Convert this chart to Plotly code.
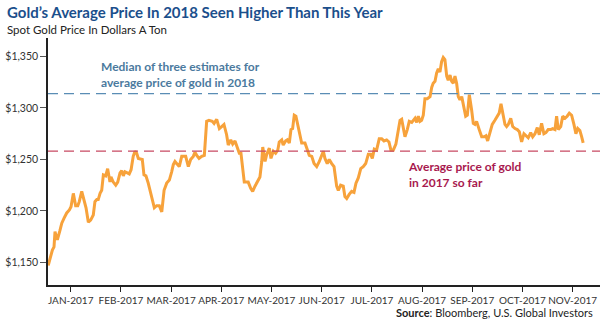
import plotly.graph_objects as go

# day-of-year (approx.) and spot gold price
days = [1.6, 2.7, 4.1, 5.1, 5.7, 6.7, 7.3, 8.7, 9.8, 11.2, 12.8, 14.4, 15.4, 16.8, 18.2, 19.5, 20.4, 21.9, 22.8, 24.5,
        25.9, 27.3, 28.9, 29.9, 31.0, 31.9, 33.0, 34.0, 35.0, 36.4, 37.6, 39.0, 39.6, 41.0, 42.5, 43.7, 45.1, 46.1, 47.1, 48.1,
        49.5, 50.7, 51.8, 53.1, 54.2, 55.2, 56.2, 57.8, 58.6, 59.6, 60.8, 62.2, 63.9, 65.9, 67.3, 68.9, 70.4, 71.8, 73.4, 75.0,
        76.4, 77.4, 78.4, 79.8, 81.0, 82.5, 83.9, 84.9, 86.5, 87.9, 89.5, 90.5, 91.6, 93.0, 94.6, 96.2, 97.6, 99.0, 101.0, 102.1,
        103.7, 105.3, 106.7, 108.1, 109.7, 110.7, 112.2, 113.4, 114.8, 115.8, 117.4, 118.4, 119.4, 120.4, 121.9, 122.8, 124.3, 125.5, 126.9, 128.3,
        129.9, 131.0, 131.6, 133.0, 134.0, 135.6, 136.6, 138.0, 139.4, 140.7, 141.6, 143.1, 144.0, 145.5, 146.5, 147.7, 148.7, 149.7, 150.7, 151.7,
        152.8, 154.2, 155.2, 157.2, 158.2, 159.8, 161.3, 162.7, 164.3, 165.9, 168.3, 169.3, 170.7, 171.9, 173.4, 174.8, 176.4, 177.4, 178.8, 180.4,
        181.4, 182.5, 184.0, 185.5, 186.9, 188.1, 189.5, 191.0, 192.5, 194.0, 195.6, 197.0, 198.0, 199.2, 200.6, 202.2, 203.7, 205.1, 206.7, 208.1,
        209.3, 210.7, 212.3, 213.4, 214.8, 215.8, 216.8, 217.8, 219.2, 220.4, 221.9, 222.8, 223.9, 224.9, 225.9, 226.9, 227.9, 228.9, 229.9, 231.3,
        233.0, 234.0, 234.9, 236.0, 237.0, 238.0, 239.0, 240.0, 241.0, 242.0, 243.1, 244.0, 245.1, 246.1, 247.1, 248.1, 249.1, 250.1, 251.1, 252.2,
        253.1, 254.6, 255.6, 256.8, 258.2, 259.2, 260.2, 261.2, 262.8, 264.3, 265.9, 266.9, 267.9, 269.3, 270.7, 272.3, 273.7, 274.9, 276.0, 277.0,
        278.4, 279.4, 280.4, 281.9, 283.1, 284.5, 285.9, 287.1, 288.5, 289.9, 291.1, 292.5, 294.0, 295.2, 296.6, 298.0, 299.2, 300.6, 302.0, 303.2,
        304.6, 306.1, 307.3, 308.7, 309.7, 310.7, 312.2, 313.4, 314.8, 316.1, 317.4, 318.8, 320.2, 321.4, 322.5, 323.8, 324.9, 325.8]
prices = [1147, 1154, 1162, 1165, 1180, 1173, 1173, 1181, 1188, 1193, 1198, 1201, 1204, 1217, 1205, 1205, 1209, 1219, 1214, 1203,
          1189, 1191, 1196, 1209, 1211, 1211, 1217, 1220, 1235, 1234, 1241, 1228, 1233, 1228, 1225, 1228, 1237, 1239, 1234, 1238,
          1237, 1236, 1240, 1253, 1258, 1256, 1251, 1250, 1250, 1235, 1234, 1227, 1215, 1203, 1205, 1205, 1199, 1220, 1227, 1230,
          1238, 1245, 1248, 1245, 1243, 1253, 1253, 1253, 1243, 1250, 1253, 1257, 1254, 1251, 1253, 1254, 1287, 1288, 1287, 1285,
          1289, 1280, 1282, 1284, 1274, 1264, 1269, 1265, 1268, 1264, 1256, 1256, 1238, 1228, 1228, 1228, 1222, 1219, 1224, 1228,
          1233, 1248, 1262, 1248, 1255, 1261, 1251, 1258, 1256, 1259, 1267, 1269, 1264, 1268, 1269, 1266, 1279, 1280, 1293, 1292,
          1283, 1274, 1266, 1266, 1262, 1254, 1253, 1246, 1243, 1248, 1258, 1251, 1246, 1250, 1246, 1243, 1224, 1220, 1225, 1224,
          1214, 1212, 1216, 1219, 1218, 1227, 1232, 1241, 1243, 1246, 1255, 1255, 1251, 1260, 1259, 1270, 1270, 1268, 1269, 1267,
          1259, 1259, 1265, 1277, 1288, 1289, 1282, 1272, 1279, 1287, 1286, 1288, 1290, 1286, 1292, 1287, 1288, 1293, 1309, 1309,
          1311, 1320, 1324, 1326, 1334, 1338, 1335, 1345, 1349, 1347, 1331, 1327, 1332, 1326, 1324, 1331, 1324, 1311, 1308, 1311,
          1303, 1292, 1293, 1313, 1298, 1285, 1284, 1287, 1279, 1272, 1272, 1273, 1268, 1277, 1284, 1288, 1292, 1295, 1304, 1295,
          1284, 1282, 1284, 1290, 1282, 1280, 1279, 1277, 1267, 1275, 1273, 1271, 1276, 1272, 1275, 1281, 1274, 1285, 1275, 1276,
          1279, 1279, 1280, 1279, 1292, 1279, 1282, 1292, 1290, 1292, 1295, 1293, 1284, 1275, 1280, 1278, 1272, 1266]

month_labels = ["JAN-2017", "FEB-2017", "MAR-2017", "APR-2017", "MAY-2017", "JUN-2017",
                "JUL-2017", "AUG-2017", "SEP-2017", "OCT-2017", "NOV-2017"]
month_len = 30.42
tick_pos = [(i + 0.5) * month_len for i in range(len(month_labels))]

y_ticks = [1150, 1200, 1250, 1300, 1350]
y_tick_text = ["$1,150", "$1,200", "$1,250", "$1,300", "$1,350"]

median_2018 = 1314
avg_2017 = 1258

FONT = "Lato"
W, H = 600, 322
ML, MR, MT, MB = 48, 0, 38, 37
PW, PH = W - ML - MR, H - MT - MB

fig = go.Figure()
fig.add_trace(go.Scatter(x=days, y=prices, mode="lines",
                         line=dict(color="#f7a23b", width=3), hoverinfo="skip"))

fig.add_shape(type="line", xref="paper", yref="y", x0=0, x1=1, y0=median_2018, y1=median_2018,
              line=dict(color="#5a8db5", width=1.3, dash="10px,6px"))
fig.add_shape(type="line", xref="paper", yref="y", x0=0, x1=1, y0=avg_2017, y1=avg_2017,
              line=dict(color="#c84a63", width=1.3, dash="10px,6px"))

fig.update_layout(
    width=W, height=H,
    margin=dict(l=ML, r=MR, t=MT, b=MB, autoexpand=False),
    paper_bgcolor="white", plot_bgcolor="white",
    showlegend=False,
    font=dict(family=FONT, size=11, color="#333333"),
    xaxis=dict(range=[1.45, 336], tickmode="array", tickvals=tick_pos, ticktext=month_labels,
               tickangle=0, automargin=False,
               showgrid=False, zeroline=False, showline=True, linecolor="#222222", linewidth=1.5,
               ticks="outside", ticklen=5, tickcolor="#222222", tickwidth=1.2,
               tickfont=dict(family=FONT, size=10, color="#333333")),
    yaxis=dict(range=[1128, 1368], tickmode="array", tickvals=y_ticks, ticktext=y_tick_text,
               automargin=False,
               showgrid=False, zeroline=False, showline=True, linecolor="#222222", linewidth=1.5,
               ticks="outside", ticklen=6, tickcolor="#555555", tickwidth=1.2,
               tickfont=dict(family=FONT, size=10.5, color="#333333")),
)

# title / subtitle / source (pixel positions converted to paper coords)
fig.add_annotation(xref="paper", yref="paper", x=(5 - ML) / PW, y=(H - MB - 12) / PH,
                   xanchor="left", yanchor="middle", showarrow=False,
                   text="<b>Gold’s Average Price In 2018 Seen Higher Than This Year</b>",
                   font=dict(family=FONT, size=15, color="#1b4f8c"))
fig.add_annotation(xref="paper", yref="paper", x=(5 - ML) / PW, y=(H - MB - 30) / PH,
                   xanchor="left", yanchor="middle", showarrow=False,
                   text="Spot Gold Price In Dollars A Ton",
                   font=dict(family=FONT, size=11.5, color="#222222"))
fig.add_annotation(xref="paper", yref="paper", x=(595 - ML) / PW, y=(H - MB - 312) / PH,
                   xanchor="right", yanchor="middle", showarrow=False,
                   text="<b>Source</b>: Bloomberg, U.S. Global Investors",
                   font=dict(family=FONT, size=11, color="#222222"))

fig.add_annotation(x=32.4, y=1332.7, xref="x", yref="y", xanchor="left", yanchor="middle",
                   text="<b>Median of three estimates for<br>average price of gold in 2018</b>",
                   showarrow=False, align="left",
                   font=dict(family=FONT, size=12, color="#4b7a9e"))
fig.add_annotation(x=218.7, y=1235.5, xref="x", yref="y", xanchor="left", yanchor="middle",
                   text="<b>Average price of gold<br>in 2017 so far</b>",
                   showarrow=False, align="left",
                   font=dict(family=FONT, size=12, color="#a8194e"))

fig.write_html("out.html")
